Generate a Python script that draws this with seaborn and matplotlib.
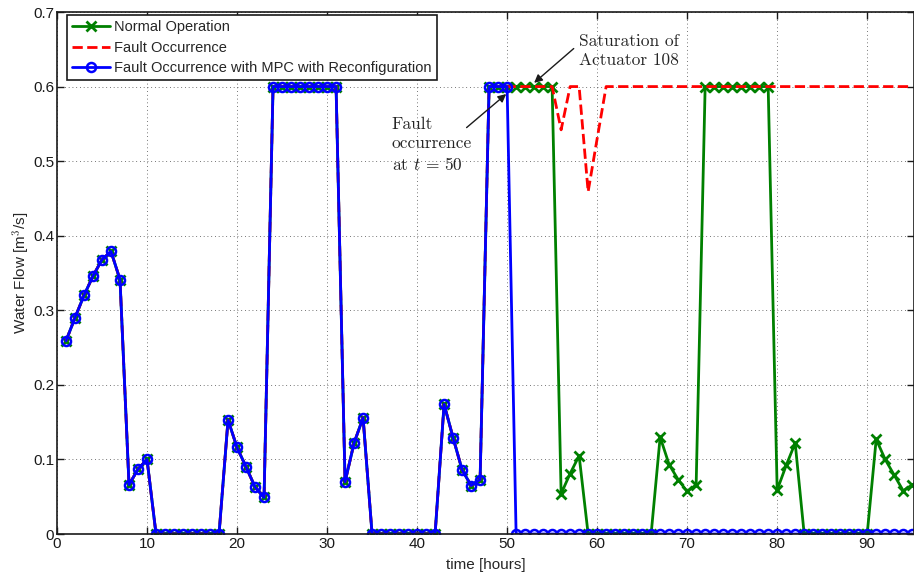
import numpy as np
import pandas as pd
import matplotlib
matplotlib.use('Agg')
import matplotlib.pyplot as plt
import seaborn as sns

# Dane (t = 1..95 godzin)
hours = list(range(1, 96))

# wspolny przebieg do t = 50
common = [0.259, 0.290, 0.320, 0.346, 0.368, 0.379, 0.341, 0.066, 0.087, 0.100,
          0, 0, 0, 0, 0, 0, 0, 0,
          0.153, 0.116, 0.090, 0.063, 0.049,
          0.6, 0.6, 0.6, 0.6, 0.6, 0.6, 0.6, 0.6,
          0.070, 0.122, 0.156,
          0, 0, 0, 0, 0, 0, 0, 0,
          0.174, 0.129, 0.086, 0.065, 0.073,
          0.6, 0.6, 0.6]

normal_tail = [0.6, 0.6, 0.6, 0.6, 0.6,
               0.054, 0.081, 0.105,
               0, 0, 0, 0, 0, 0, 0, 0,
               0.130, 0.093, 0.073, 0.057, 0.066,
               0.6, 0.6, 0.6, 0.6, 0.6, 0.6, 0.6, 0.6,
               0.059, 0.092, 0.122,
               0, 0, 0, 0, 0, 0, 0, 0,
               0.127, 0.100, 0.079, 0.058, 0.066]

fault_tail = [0.6, 0.6, 0.6, 0.6, 0.6,
              0.542, 0.6, 0.6, 0.459, 0.530] + [0.6] * 35

reconf_tail = [0.0] * 45

normal = common + normal_tail
fault = common + fault_tail
reconf = common + reconf_tail

df = pd.DataFrame({'t': hours, 'normal': normal, 'fault': fault, 'reconf': reconf})

sns.set_theme(style='ticks')
plt.rcParams['font.family'] = ['Liberation Sans', 'DejaVu Sans']
plt.rcParams['mathtext.fontset'] = 'cm'

fig = plt.figure(figsize=(9.14, 5.76), dpi=100)
ax = fig.add_axes([57 / 914, 42 / 576, 1 - 57 / 914, 522 / 576])

green = (0, 0.5, 0)
sns.lineplot(data=df, x='t', y='normal', ax=ax, color=green, linewidth=2,
             marker='x', markersize=7, markeredgewidth=2, markeredgecolor=green,
             label='Normal Operation')
sns.lineplot(data=df, x='t', y='fault', ax=ax, color='red', linewidth=2,
             linestyle='--', dashes=(3.5, 2.5), label='Fault Occurrence')
sns.lineplot(data=df, x='t', y='reconf', ax=ax, color='blue', linewidth=2,
             marker='o', markersize=6.5, markeredgewidth=1.8,
             markerfacecolor='none', markeredgecolor='blue',
             label='Fault Occurrence with MPC with Reconfiguration')

ax.set_xlim(0, 95.2)
ax.set_ylim(0, 0.7)
ax.set_xticks(range(0, 100, 10))
ax.set_yticks([0, 0.1, 0.2, 0.3, 0.4, 0.5, 0.6, 0.7])
ax.set_yticklabels(['0', '0.1', '0.2', '0.3', '0.4', '0.5', '0.6', '0.7'])
ax.tick_params(direction='in', length=5, width=1, labelsize=11,
               top=True, right=True, colors='k', pad=2)
for s in ax.spines.values():
    s.set_visible(True)
    s.set_color('k')
    s.set_linewidth(1.2)
ax.grid(True, color='k', linestyle=(0, (1, 3.5)), linewidth=0.6, alpha=0.8)

ax.set_xlabel('time [hours]', fontsize=11, labelpad=5)
ax.set_ylabel('Water Flow [m$^3$/s]', fontsize=11, labelpad=1)

leg = ax.legend(loc='upper left', bbox_to_anchor=(10 / 857, 1 - 3 / 522),
                borderaxespad=0, fontsize=10.5, handlelength=2.6,
                labelspacing=0.45, fancybox=False, framealpha=1,
                edgecolor='k', borderpad=0.35, handletextpad=0.3)
leg.get_frame().set_linewidth(1.2)

# adnotacje
ax.text(58.0, 0.648, 'Saturation of\nActuator 108', fontfamily='cmr10',
        fontsize=12.5, ha='left', va='center', linespacing=1.3)
ax.annotate('', xy=(53.0, 0.605), xytext=(57.4, 0.651),
            arrowprops=dict(arrowstyle='-|>', color='k', lw=1,
                            shrinkA=0, shrinkB=0, mutation_scale=12))
ax.text(37.2, 0.522, 'Fault\noccurrence\nat $t\\,=\\,50$', fontfamily='cmr10',
        fontsize=12.5, ha='left', va='center', linespacing=1.3)
ax.annotate('', xy=(49.9, 0.59), xytext=(45.5, 0.545),
            arrowprops=dict(arrowstyle='-|>', color='k', lw=1,
                            shrinkA=0, shrinkB=0, mutation_scale=12))

fig.savefig('out.png', dpi=100)
